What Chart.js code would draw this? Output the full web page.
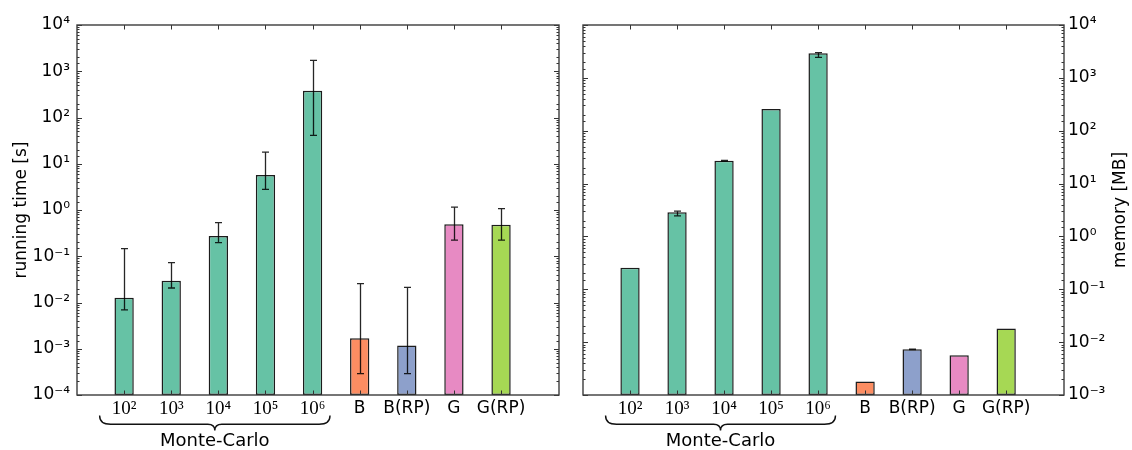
<!DOCTYPE html>
<html><head><meta charset="utf-8">
<script src="https://cdn.jsdelivr.net/npm/chart.js@4/dist/chart.umd.min.js"></script>
<style>
html,body{margin:0;padding:0;background:#fff;}
#wrap{position:relative;width:1132px;height:450px;overflow:hidden;}
canvas{position:absolute;top:0;}
#c1{left:0}
#c2{left:566px}
</style></head><body>
<div id="wrap"><canvas id="c1" width="566" height="450"></canvas><canvas id="c2" width="566" height="450"></canvas></div>
<script>
// ---- data ----
const categories = ['10²','10³','10⁴','10⁵','10⁶','B','B(RP)','G','G(RP)'];
const groupLabel = 'Monte-Carlo';
const groupSize = 5;

const timeValues  = [0.0127, 0.0297, 0.274, 5.71, 380, 0.00168, 0.00117, 0.49, 0.48];
const timeErrLow  = [0.0069, 0.0206, 0.197, 2.8, 41, 0.00029, 0.00029, 0.224, 0.224];
const timeErrHigh = [0.146, 0.0726, 0.532, 17.9, 1722, 0.0255, 0.0213, 1.15, 1.07];

const memValues  = [0.2565, 2.86, 27.1, 258, 2911, 0.00181, 0.0073, 0.00564, 0.0182];
const memErrLow  = [0.2565, 2.45, 26.6, 258, 2450, 0.00181, 0.0072, 0.00564, 0.0181];
const memErrHigh = [0.2565, 3.0, 27.4, 258, 2990, 0.00181, 0.0074, 0.00564, 0.0183];

const timeTickLabels = ['10⁻⁴','10⁻³','10⁻²','10⁻¹','10⁰','10¹','10²','10³','10⁴'];
const memTickLabels  = ['10⁻³','10⁻²','10⁻¹','10⁰','10¹','10²','10³','10⁴'];

const timeTitle = 'running time [s]';
const memTitle = 'memory [MB]';

const barColors = ['#66c2a5','#66c2a5','#66c2a5','#66c2a5','#66c2a5','#fc8d62','#8da0cb','#e78ac3','#a6d854'];

// ---- helpers ----
const SANS = 'DejaVu Sans';
const SERIF = 'Liberation Serif';

function decorPlugin(low, high, rightTitle) {
  return {
    id: 'decor',
    afterDatasetsDraw(chart) {
      const {ctx, chartArea: a, scales: {x, y}} = chart;
      ctx.save();
      // error bars
      const meta = chart.getDatasetMeta(0);
      ctx.strokeStyle = 'rgba(0,0,0,0.85)';
      ctx.lineWidth = 1.3;
      meta.data.forEach((bar, i) => {
        const lo = y.getPixelForValue(low[i]);
        const hi = y.getPixelForValue(high[i]);
        if (Math.abs(lo - hi) < 0.5) return;
        const cx = Math.round(bar.x) + 0.5;
        ctx.beginPath();
        ctx.moveTo(cx, lo); ctx.lineTo(cx, hi);
        ctx.moveTo(cx - 3.5, lo); ctx.lineTo(cx + 3.5, lo);
        ctx.moveTo(cx - 3.5, hi); ctx.lineTo(cx + 3.5, hi);
        ctx.stroke();
      });
      // inward ticks on y (both sides)
      ctx.strokeStyle = '#333';
      ctx.lineWidth = 1;
      y.ticks.forEach(t => {
        const p = Math.round(y.getPixelForValue(t.value)) + 0.5;
        if (p < a.top - 1 || p > a.bottom + 1) return;
        const l = Math.log10(t.value);
        const major = Math.abs(l - Math.round(l)) < 1e-6;
        const len = major ? 5 : 2.5;
        ctx.beginPath();
        ctx.moveTo(a.left, p); ctx.lineTo(a.left + len, p);
        ctx.moveTo(a.right, p); ctx.lineTo(a.right - len, p);
        ctx.stroke();
      });
      // inward ticks on x (top & bottom) at categories
      categories.forEach((c, i) => {
        const p = Math.round(x.getPixelForValue(i)) + 0.5;
        ctx.beginPath();
        ctx.moveTo(p, a.top); ctx.lineTo(p, a.top + 4.5);
        ctx.moveTo(p, a.bottom); ctx.lineTo(p, a.bottom - 4.5);
        ctx.stroke();
      });
      // frame
      ctx.strokeStyle = '#3c3c3c';
      ctx.lineWidth = 1.4;
      ctx.strokeRect(a.left, a.top, a.right - a.left, a.bottom - a.top);
      // brace under Monte-Carlo group
      const xl = x.getPixelForValue(-0.52);
      const xr = x.getPixelForValue(groupSize - 1 + 0.37);
      const xm = (xl + xr) / 2;
      const y0 = a.bottom + 20.5, y1 = a.bottom + 29.3, yt = a.bottom + 35.5;
      ctx.strokeStyle = '#111';
      ctx.lineWidth = 1.4;
      ctx.beginPath();
      ctx.moveTo(xl, y0);
      ctx.quadraticCurveTo(xl, y1, xl + 11, y1);
      ctx.lineTo(xm - 7, y1);
      ctx.quadraticCurveTo(xm, y1, xm, yt);
      ctx.quadraticCurveTo(xm, y1, xm + 7, y1);
      ctx.lineTo(xr - 11, y1);
      ctx.quadraticCurveTo(xr, y1, xr, y0);
      ctx.stroke();
      ctx.fillStyle = '#000';
      ctx.font = '18px "' + SANS + '"';
      ctx.textAlign = 'center';
      ctx.textBaseline = 'middle';
      ctx.fillText(groupLabel, xm, a.bottom + 46.5);
      if (rightTitle) {
        ctx.save();
        ctx.translate(chart.width - 11, (a.top + a.bottom) / 2);
        ctx.rotate(-Math.PI / 2);
        ctx.font = '17px "' + SANS + '"';
        ctx.textAlign = 'center';
        ctx.textBaseline = 'middle';
        ctx.fillText(rightTitle, 0, 0);
        ctx.restore();
      }
      ctx.restore();
    }
  };
}

function makeChart(id, values, low, high, tickLabels, yMin, yMax, side, title) {
  const minExp = Math.round(Math.log10(yMin));
  const yScale = {
    type: 'logarithmic',
    position: side,
    min: yMin, max: yMax,
    grid: {display: false, drawTicks: false},
    border: {display: false},
    ticks: {
      autoSkip: false,
      padding: side === 'left' ? 7 : 4,
      color: '#000',
      font: {family: SANS, size: 17},
      callback: (v) => {
        const l = Math.log10(v);
        const e = Math.round(l);
        return Math.abs(l - e) < 1e-6 ? tickLabels[e - minExp] : '';
      }
    },
    afterFit: (s) => { s.width = side === 'left' ? 77 : 68; }
  };
  if (side === 'left') {
    yScale.title = {display: true, text: title, color: '#000', font: {family: SANS, size: 17}, padding: {top: 11, bottom: 0}};
  }
  return new Chart(document.getElementById(id), {
    type: 'bar',
    data: {
      datasets: [{
        data: categories.map((c, i) => ({x: i, y: values[i]})),
        backgroundColor: barColors,
        borderColor: '#1c1c1c',
        borderWidth: 1.5,
        borderSkipped: false,
        barPercentage: 0.41,
        categoryPercentage: 1.0
      }]
    },
    options: {
      responsive: false,
      animation: false,
      devicePixelRatio: 1,
      layout: {padding: side === 'left' ? {top: 25, right: 7, bottom: 0, left: 0} : {top: 25, right: 0, bottom: 0, left: 17}},
      plugins: {legend: {display: false}, tooltip: {enabled: false}},
      scales: {
        x: {
          type: 'linear',
          min: -1, max: 9.23,
          offset: false,
          grid: {display: false, drawTicks: false, offset: false},
          border: {display: false},
          ticks: {
            stepSize: 1,
            autoSkip: false,
            maxRotation: 0,
            padding: 3,
            color: '#000',
            font: (c) => {
              const v = c.tick ? c.tick.value : -1;
              return (v >= 0 && v < groupSize) ? {family: SERIF, size: 19} : {family: SANS, size: 17};
            },
            callback: (v) => (Number.isInteger(v) && v >= 0 && v < categories.length) ? categories[v] : ''
          },
          afterFit: (s) => { s.height = 55; }
        },
        y: yScale
      }
    },
    plugins: [decorPlugin(low, high, side === 'right' ? title : null)]
  });
}

makeChart('c1', timeValues, timeErrLow, timeErrHigh, timeTickLabels, 1e-4, 1e4, 'left', timeTitle);
makeChart('c2', memValues, memErrLow, memErrHigh, memTickLabels, 1e-3, 1e4, 'right', memTitle);
</script>
</body></html>
